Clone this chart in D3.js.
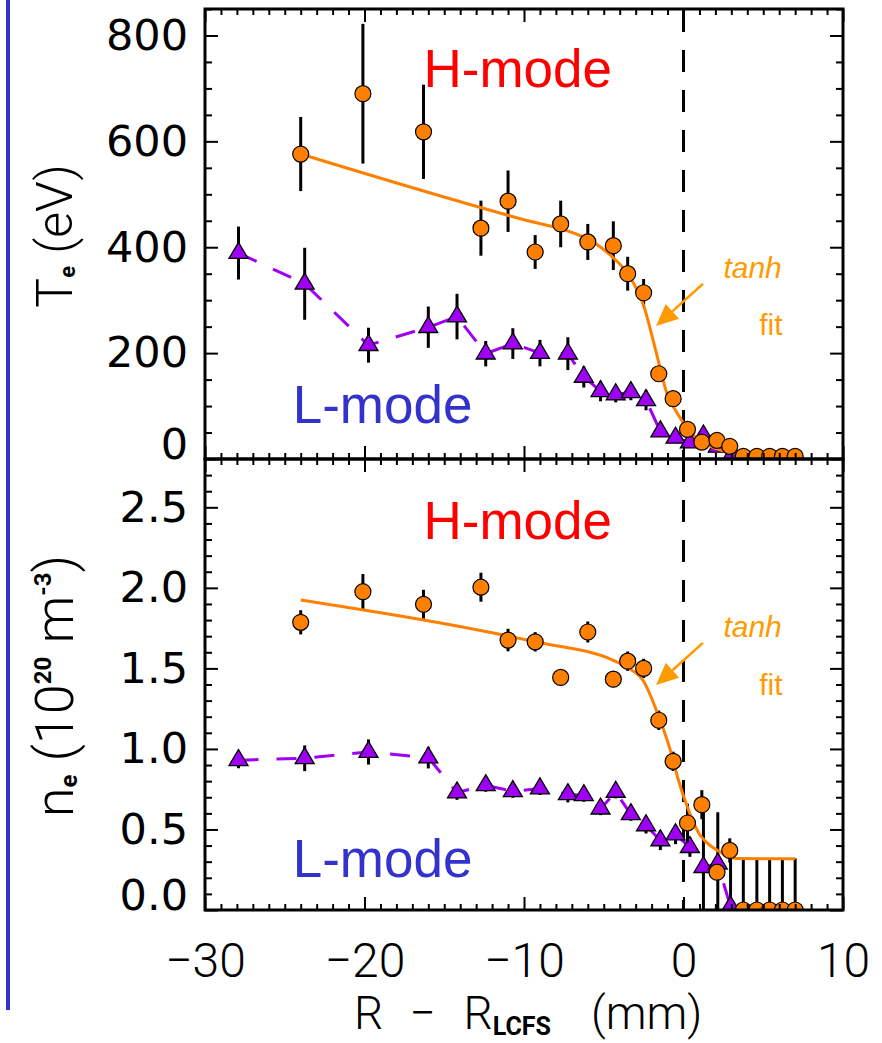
<!DOCTYPE html>
<html><head><meta charset="utf-8">
<script src="https://cdn.jsdelivr.net/npm/d3@7"></script>
<style>body{margin:0;background:#fff}svg{display:block}</style>
</head><body>
<svg id="c" width="882" height="1043"></svg>
<script>
// ---- data ----
const xTicks = [-30, -20, -10, 0, 10];
const teTicks = [0, 200, 400, 600, 800];
const neTicks = [0, 0.5, 1.0, 1.5, 2.0, 2.5];

// H-mode (circles)
const hR    = [-24, -20.1, -16.3, -12.7, -11.0, -9.3, -7.7, -6.0, -4.4, -3.5, -2.5, -1.55, -0.65, 0.25, 1.15, 2.1, 2.9, 3.75, 4.6, 5.4, 6.2, 7.0];
const hTe   = [576, 690, 618, 436, 487, 391, 444, 410, 403, 350, 314, 161, 114, 56, 32, 35, 24, 5, 5, 5, 5, 5];
const hTeErr= [70, 132, 89, 52, 58, 32, 44, 34, 46, 32, 26, 0, 0, 0, 0, 0, 0, 0, 0, 0, 0, 0];
const hNe   = [1.786, 1.976, 1.898, 2.004, 1.676, 1.665, 1.444, 1.726, 1.433, 1.545, 1.50, 1.178, 0.923, 0.54, 0.654, 0.235, 0.37, 0, 0, 0, 0, 0];
const hNeErr= [0.075, 0.11, 0.09, 0.09, 0.07, 0.06, 0.03, 0.065, 0.05, 0.06, 0.06, 0.06, 0.06, 0.12, 0.09, 0.04, 0.075, 0.32, 0.32, 0.32, 0.32, 0.32];

// L-mode (triangles)
const lR    = [-27.9, -23.75, -19.75, -16.0, -14.2, -12.4, -10.7, -9.0, -7.25, -6.25, -5.2, -4.25, -3.3, -2.35, -1.45, -0.5, 0.4, 1.25, 2.15, 2.95];
const lTe   = [389, 331, 215, 249, 269, 199, 218, 200, 199, 155, 128, 122, 126, 111, 52, 40, 31, 44, 23, 3];
const lTeErr= [50, 68, 33, 39, 43, 24, 29, 25, 31, 20, 19, 15, 15, 19, 0, 0, 0, 0, 0, 0];
const lNe   = [0.93, 0.942, 0.981, 0.946, 0.729, 0.774, 0.737, 0.754, 0.718, 0.712, 0.629, 0.733, 0.594, 0.525, 0.432, 0.469, 0.39, 0.266, 0.287, 0.02];
const lNeErr= [0.05, 0.08, 0.078, 0.067, 0.045, 0.04, 0.04, 0.04, 0.05, 0.04, 0.04, 0.04, 0.04, 0.05, 0.06, 0.06, 0.06, 0.34, 0.32, 0.31];

// tanh fits
const teFitR  = [-24, -10, -7, -5.9, -4.4, -3.5, -2.5, -1.7, -1.05, -0.5, 0, 0.5, 1, 1.5, 2, 3, 4, 7];
const teFitTe = [576, 452, 428, 414, 380, 350, 290, 200, 125, 92, 68, 48, 36, 27, 20, 12, 9, 9];
const neFitR  = [-24, -9.3, -4.4, -3.4, -2.5, -1.7, -0.85, -0.33, 0.2, 0.6, 1.0, 1.45, 2.3, 3.3, 7.0];
const neFitNe = [1.925, 1.665, 1.55, 1.50, 1.42, 1.24, 1.0, 0.81, 0.65, 0.55, 0.47, 0.42, 0.36, 0.32, 0.318];

// ---- colours ----
const ORANGE = '#ff8000', ORANGE_T = '#ff9a00', PURPLE = '#9f00f5', RED = '#ff0000', BLUE = '#3333cc';

const svg = d3.select('#c');
const x  = d3.scaleLinear([-30, 10], [205, 843]);
const yT = d3.scaleLinear([0, 850], [459, 9]);
const yN = d3.scaleLinear([0, 2.8], [910, 459]);

// blue bar at left
svg.append('line').attr('x1', 8).attr('x2', 8).attr('y1', 0).attr('y2', 1010)
  .attr('stroke', BLUE).attr('stroke-width', 4);

const xMinor = d3.range(-30, 11).filter(v => v % 10 !== 0);

function panel(id, y, majors, minors, fmt, hY, hErr, lY, lErr, fitR, fitY, bottomLabels) {
  const top = y.range()[1], bot = y.range()[0];
  const L = x.range()[0], R = x.range()[1];
  const g = svg.append('g');
  const clipId = 'clip' + id;
  svg.append('clipPath').attr('id', clipId).append('rect')
    .attr('x', L).attr('y', top).attr('width', R - L).attr('height', bot - top);

  const plot = g.append('g').attr('clip-path', `url(#${clipId})`);

  // vertical dashed line at LCFS
  plot.append('line').attr('x1', x(0)).attr('x2', x(0)).attr('y1', top + 1).attr('y2', bot)
    .attr('stroke', '#000').attr('stroke-width', 3).attr('stroke-dasharray', '22,18');

  // L-mode dashed line
  const lPts = lR.map((r, i) => [r, lY[i]]);
  plot.append('path').datum(lPts)
    .attr('d', d3.line().x(d => x(d[0])).y(d => y(d[1])))
    .attr('fill', 'none').attr('stroke', PURPLE).attr('stroke-width', 3)
    .attr('stroke-dasharray', '20,18');

  // L-mode error bars
  plot.append('g').selectAll('line').data(lPts.map((p, i) => [p[0], p[1], lErr[i]]).filter(d => d[2] > 0))
    .join('line')
    .attr('x1', d => x(d[0])).attr('x2', d => x(d[0]))
    .attr('y1', d => y(d[1] - d[2])).attr('y2', d => y(d[1] + d[2]))
    .attr('stroke', '#000').attr('stroke-width', 3);

  // triangles
  const w = 19, h = 16;
  const tri = `M0,${-2 * h / 3}L${w / 2},${h / 3}L${-w / 2},${h / 3}Z`;
  plot.append('g').selectAll('path').data(lPts).join('path')
    .attr('d', tri).attr('transform', d => `translate(${x(d[0])},${y(d[1])})`)
    .attr('fill', PURPLE).attr('stroke', '#000').attr('stroke-width', 1.3).attr('stroke-linejoin', 'miter');

  // H-mode error bars
  const hPts = hR.map((r, i) => [r, hY[i], hErr[i]]);
  plot.append('g').selectAll('line').data(hPts.filter(d => d[2] > 0)).join('line')
    .attr('x1', d => x(d[0])).attr('x2', d => x(d[0]))
    .attr('y1', d => y(d[1] - d[2])).attr('y2', d => y(d[1] + d[2]))
    .attr('stroke', '#000').attr('stroke-width', 3);

  // tanh fit
  plot.append('path').datum(fitR.map((r, i) => [r, fitY[i]]))
    .attr('d', d3.line().x(d => x(d[0])).y(d => y(d[1])).curve(d3.curveMonotoneX))
    .attr('fill', 'none').attr('stroke', ORANGE).attr('stroke-width', 3);

  // circles
  plot.append('g').selectAll('circle').data(hPts).join('circle')
    .attr('cx', d => x(d[0])).attr('cy', d => y(d[1])).attr('r', 8)
    .attr('fill', ORANGE).attr('stroke', '#000').attr('stroke-width', 1.2);

  // axes
  const strip = s => s.call(a => a.select('.domain').remove());
  const tickStyle = s => s.selectAll('.tick line').attr('stroke', '#000').attr('stroke-width', 2);
  g.append('g').attr('transform', `translate(0,${bot})`)
    .call(d3.axisBottom(x).tickValues(xMinor).tickSizeInner(-6).tickSizeOuter(0).tickFormat(''))
    .call(strip).call(tickStyle);
  g.append('g').attr('transform', `translate(0,${top})`)
    .call(d3.axisTop(x).tickValues(xMinor).tickSizeInner(-6).tickSizeOuter(0).tickFormat(''))
    .call(strip).call(tickStyle);
  g.append('g').attr('transform', `translate(0,${top})`)
    .call(d3.axisTop(x).tickValues(xTicks).tickSizeInner(-13).tickSizeOuter(0).tickFormat(''))
    .call(strip).call(tickStyle);
  const xb = g.append('g').attr('transform', `translate(0,${bot})`)
    .call(d3.axisBottom(x).tickValues(xTicks).tickSizeInner(-13).tickSizeOuter(0).tickPadding(33)
      .tickFormat(bottomLabels ? (d => d < 0 ? '\u2212' + Math.abs(d) : String(d)) : ''))
    .call(strip).call(tickStyle);
  xb.selectAll('.tick text').attr('font-family', 'Roboto, "Liberation Sans", sans-serif')
    .attr('font-weight', 300).attr('font-size', 48).attr('fill', '#000');

  g.append('g').attr('transform', `translate(${L},0)`)
    .call(d3.axisLeft(y).tickValues(minors).tickSizeInner(-7).tickSizeOuter(0).tickFormat(''))
    .call(strip).call(tickStyle);
  g.append('g').attr('transform', `translate(${R},0)`)
    .call(d3.axisRight(y).tickValues(minors).tickSizeInner(-7).tickSizeOuter(0).tickFormat(''))
    .call(strip).call(tickStyle);
  g.append('g').attr('transform', `translate(${R},0)`)
    .call(d3.axisRight(y).tickValues(majors).tickSizeInner(-13).tickSizeOuter(0).tickFormat(''))
    .call(strip).call(tickStyle);
  const yl = g.append('g').attr('transform', `translate(${L},0)`)
    .call(d3.axisLeft(y).tickValues(majors).tickSizeInner(-13).tickSizeOuter(0).tickPadding(17).tickFormat(fmt))
    .call(strip).call(tickStyle);
  yl.selectAll('.tick text').attr('font-family', '"DejaVu Sans", sans-serif')
    .attr('font-size', 43).attr('fill', '#000');
  yl.selectAll('.tick text').filter(d => d === 0).attr('transform', 'translate(0,-14)');

  g.append('rect').attr('x', L).attr('y', top).attr('width', R - L).attr('height', bot - top)
    .attr('fill', 'none').attr('stroke', '#000').attr('stroke-width', 3);
  return g;
}

const minorTe = d3.range(0, 851, 50).filter(v => v % 200 !== 0);
const minorNe = d3.range(0, 28).map(v => v / 10).filter((v, i) => i % 5 !== 0);

const gT = panel('T', yT, teTicks, minorTe, d3.format('d'), hTe, hTeErr, lTe, lTeErr, teFitR, teFitTe, false);
const gN = panel('N', yN, neTicks, minorNe, d3.format('.1f'), hNe, hNeErr, lNe, lNeErr, neFitR, neFitNe, true);

// annotations
function annot(g, y, hY, lY, tanhY, fitY, a0, a1) {
  const ff = '"Liberation Sans", Arial, sans-serif';
  g.append('text').attr('x', x(-16.3)).attr('y', y(hY)).text('H-mode')
    .attr('font-family', ff).attr('font-size', 53).attr('fill', RED);
  g.append('text').attr('x', x(-24.5)).attr('y', y(lY)).text('L-mode')
    .attr('font-family', ff).attr('font-size', 53).attr('fill', BLUE);
  g.append('text').attr('x', x(2.5)).attr('y', y(tanhY)).text('tanh')
    .attr('font-family', ff).attr('font-style', 'italic').attr('font-size', 30).attr('fill', ORANGE_T);
  g.append('text').attr('x', x(4.75)).attr('y', y(fitY)).text('fit')
    .attr('font-family', ff).attr('font-size', 30).attr('fill', ORANGE_T);
  const sx = x(a0[0]), sy = y(a0[1]), tx = x(a1[0]), ty = y(a1[1]);
  const ang = Math.atan2(ty - sy, tx - sx);
  const hl = 22, hw = 10;
  const bx = tx - hl * Math.cos(ang), by = ty - hl * Math.sin(ang);
  g.append('line').attr('x1', sx).attr('y1', sy).attr('x2', bx).attr('y2', by)
    .attr('stroke', ORANGE_T).attr('stroke-width', 2.5);
  g.append('path').attr('d', `M${tx},${ty}L${bx + hw * Math.sin(ang)},${by - hw * Math.cos(ang)}L${bx - hw * Math.sin(ang)},${by + hw * Math.cos(ang)}Z`)
    .attr('fill', ORANGE_T);
}
annot(gT, yT, 703, 68, 342, 234, [1.22, 331], [-1.72, 251]);
annot(gN, yN, 2.303, 0.205, 1.695, 1.335, [1.22, 1.658], [-1.72, 1.397]);

// axis titles
const tf = 'Roboto, "Liberation Sans", sans-serif';
const tT = svg.append('text').attr('transform', 'translate(72,236) rotate(-90)')
  .attr('text-anchor', 'middle').attr('font-family', tf).attr('font-weight', 300).attr('font-size', 50).attr('fill', '#000');
tT.append('tspan').text('T');
tT.append('tspan').text('e').attr('font-size', 22).attr('font-weight', 700).attr('dy', 3);
tT.append('tspan').text(' (eV)').attr('dy', -3);

const tN = svg.append('text').attr('transform', 'translate(73,686) rotate(-90)')
  .attr('text-anchor', 'middle').attr('font-family', tf).attr('font-weight', 300).attr('font-size', 54).attr('fill', '#000');
tN.append('tspan').text('n');
tN.append('tspan').text('e').attr('font-size', 24).attr('font-weight', 700).attr('dy', 4);
tN.append('tspan').text(' (10').attr('dy', -4);
tN.append('tspan').text('20').attr('font-size', 24).attr('font-weight', 700).attr('dy', -22);
tN.append('tspan').text(' m').attr('dy', 22);
tN.append('tspan').text('-3').attr('font-size', 24).attr('font-weight', 700).attr('dy', -22);
tN.append('tspan').text(')').attr('dy', 22);

const tX = svg.append('text').attr('x', 354).attr('y', 1029)
  .attr('font-family', tf).attr('font-weight', 300).attr('font-size', 46).attr('fill', '#000');
tX.append('tspan').text('R');
tX.append('tspan').text('\u2212').attr('dx', 26);
tX.append('tspan').text('R').attr('dx', 28);
tX.append('tspan').text('LCFS').attr('font-size', 25).attr('font-weight', 700).attr('dy', 6);
tX.append('tspan').text('(mm)').attr('dy', -6).attr('dx', 40);
</script>
</body></html>
